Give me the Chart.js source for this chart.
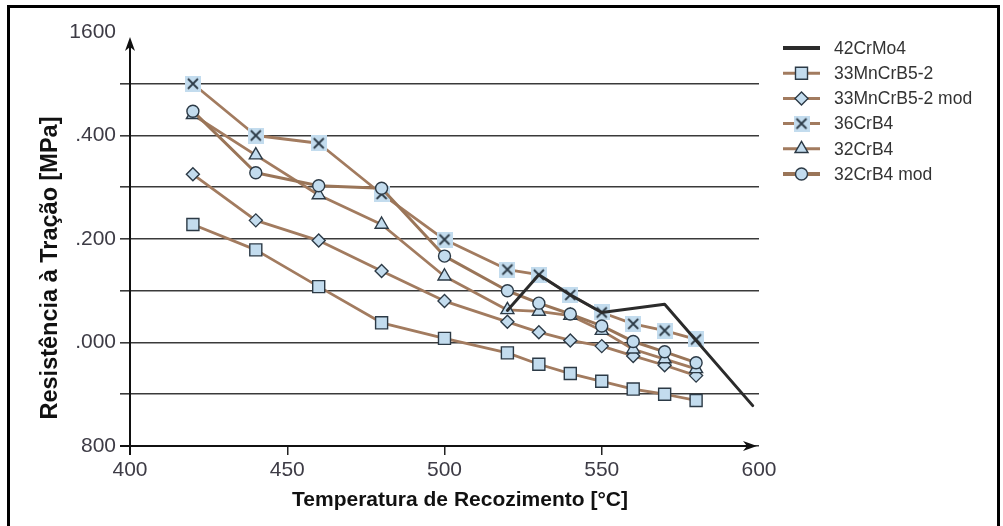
<!DOCTYPE html>
<html><head><meta charset="utf-8">
<script src="https://cdn.jsdelivr.net/npm/chart.js@4.4.1/dist/chart.umd.min.js"></script>
<style>html,body{margin:0;padding:0;background:#fff;}#wrap{width:1003px;height:526px;}</style>
</head><body><div id="wrap"><canvas id="c" width="1003" height="526"></canvas></div>
<script>
// ---- data ----
const temps = [420,440,460,480,500,520,530,540,550,560,570,580];
const temps42CrMo4 = [520,530,540,550,570,598];
const v42CrMo4 = [1062,1131,1092,1058,1074,878];
const v33MnCrB5_2 = [1228,1179,1108,1038,1008,980,958,940,925,910,900,888];
const v33MnCrB5_2mod = [1325,1236,1197,1138,1080,1040,1020,1004,993,974,956,936];
const v36CrB4 = [1500,1400,1385,1287,1199,1141,1131,1092,1058,1036,1023,1006];
const v32CrB4 = [1440,1362,1285,1228,1128,1063,1060,1052,1023,987,968,949];
const v32CrB4mod = [1447,1328,1303,1298,1167,1100,1076,1055,1032,1002,982,961];
const seriesLabels = ['42CrMo4','33MnCrB5-2','33MnCrB5-2 mod','36CrB4','32CrB4','32CrB4 mod'];
const xTickValues = [400,450,500,550,600];
const yTickLabels = {800:'800',1000:'.000',1200:'.200',1400:'.400',1600:'1600'};
const xTitle = 'Temperatura de Recozimento [°C]';
const yTitle = 'Resistência à Tração [MPa]';

const FONT = "'Liberation Sans', Arial, sans-serif";
const BROWN = '#a27b5f';
const FILL = '#c3dcee';
const EDGE = '#2c3a46';

function pts(xs, ys){ return xs.map((x,i)=>({x:x, y:ys[i]})); }

// X marker with light blue square background
const xMark = document.createElement('canvas');
xMark.width = 16; xMark.height = 16;
(function(){
  const g = xMark.getContext('2d');
  g.fillStyle = FILL; g.fillRect(0,0,16,16);
  g.strokeStyle = EDGE; g.lineWidth = 1.8;
  g.beginPath(); g.moveTo(3,3); g.lineTo(13,13); g.moveTo(13,3); g.lineTo(3,13); g.stroke();
})();

const styles = [
  {style:false, r:0, color:'#2b2b2b', w:3},
  {style:'rect', r:8.5, color:BROWN, w:2.8},
  {style:'rectRot', r:6.5, color:BROWN, w:2.8},
  {style:xMark, r:8, color:BROWN, w:2.8},
  {style:'triangle', r:7.5, color:BROWN, w:2.8},
  {style:'circle', r:6, color:'#9a7558', w:3},
];
const dataArrays = [pts(temps42CrMo4,v42CrMo4), pts(temps,v33MnCrB5_2), pts(temps,v33MnCrB5_2mod), pts(temps,v36CrB4), pts(temps,v32CrB4), pts(temps,v32CrB4mod)];

const datasets = dataArrays.map((d,i)=>({
  label: seriesLabels[i],
  data: d,
  borderColor: styles[i].color,
  borderWidth: styles[i].w,
  backgroundColor: FILL,
  pointStyle: styles[i].style,
  pointRadius: styles[i].r,
  pointHoverRadius: styles[i].r,
  pointBorderColor: EDGE,
  pointBackgroundColor: FILL,
  pointBorderWidth: 1.4,
  tension: 0,
  fill: false,
  order: i === 0 ? 2 : (6 - i) + 2
}));

function drawMarker(ctx, st, x, y){
  if (!st.style) return;
  ctx.save();
  ctx.fillStyle = FILL; ctx.strokeStyle = EDGE; ctx.lineWidth = 1.4;
  const r = st.r;
  if (st.style instanceof HTMLCanvasElement){
    ctx.drawImage(st.style, x-8, y-8);
  } else {
    ctx.beginPath();
    if (st.style==='rect'){ const s=Math.SQRT1_2*r; ctx.rect(x-s,y-s,2*s,2*s); }
    else if (st.style==='rectRot'){ ctx.moveTo(x-r,y); ctx.lineTo(x,y-r); ctx.lineTo(x+r,y); ctx.lineTo(x,y+r); ctx.closePath(); }
    else if (st.style==='triangle'){ for(let k=0;k<3;k++){ const a=k*2*Math.PI/3; const px=x+Math.sin(a)*r, py=y-Math.cos(a)*r; k?ctx.lineTo(px,py):ctx.moveTo(px,py);} ctx.closePath(); }
    else if (st.style==='circle'){ ctx.arc(x,y,r,0,Math.PI*2); }
    ctx.fill(); ctx.stroke();
  }
  ctx.restore();
}

const decor = {
  id:'decor',
  afterDraw(chart){
    const ctx = chart.ctx;
    const xs = chart.scales.x, ys = chart.scales.y;
    const x0 = xs.getPixelForValue(400), y0 = ys.getPixelForValue(800);
    const yTop = chart.chartArea.top, xEnd = xs.getPixelForValue(600);
    ctx.save();
    // axes with arrows
    ctx.strokeStyle = '#111'; ctx.fillStyle = '#111'; ctx.lineWidth = 2;
    ctx.beginPath(); ctx.moveTo(x0, y0+9); ctx.lineTo(x0, yTop+10); ctx.stroke();
    ctx.beginPath(); ctx.moveTo(x0, yTop+5); ctx.lineTo(x0-5, yTop+19); ctx.lineTo(x0, yTop+15); ctx.lineTo(x0+5, yTop+19); ctx.closePath(); ctx.fill();
    ctx.beginPath(); ctx.moveTo(x0-10, y0); ctx.lineTo(xEnd-8, y0); ctx.stroke();
    ctx.beginPath(); ctx.moveTo(xEnd-2, y0); ctx.lineTo(xEnd-16, y0-5); ctx.lineTo(xEnd-12, y0); ctx.lineTo(xEnd-16, y0+5); ctx.closePath(); ctx.fill();
    // axis titles
    ctx.fillStyle = '#111';
    ctx.font = 'bold 21px ' + FONT; ctx.textAlign='center'; ctx.textBaseline='middle';
    ctx.fillText(xTitle, 460, 500);
    ctx.save(); ctx.translate(51, 268); ctx.rotate(-Math.PI/2);
    ctx.font = 'bold 23.5px ' + FONT; ctx.fillText(yTitle, 0, 0); ctx.restore();
    // legend
    chart.data.datasets.forEach((ds,i)=>{
      const ly = 48 + i*25.2;
      ctx.strokeStyle = ds.borderColor; ctx.lineWidth = (i===0||i===5)?4:3;
      ctx.beginPath(); ctx.moveTo(783, ly); ctx.lineTo(820, ly); ctx.stroke();
      drawMarker(ctx, styles[i], 801.5, ly);
      ctx.fillStyle = '#333'; ctx.font = '17.5px ' + FONT; ctx.textAlign='left'; ctx.textBaseline='middle';
      ctx.fillText(ds.label, 834, ly+1);
    });
    // frame
    ctx.strokeStyle = '#000'; ctx.lineWidth = 3;
    ctx.beginPath(); ctx.moveTo(8.5, 540); ctx.lineTo(8.5, 6.5); ctx.lineTo(998.5, 6.5); ctx.lineTo(998.5, 540); ctx.stroke();
    ctx.restore();
  }
};

new Chart(document.getElementById('c'), {
  type:'line',
  data:{datasets},
  plugins:[decor],
  options:{
    responsive:false, animation:false, devicePixelRatio:1,
    layout:{padding:{top:32,right:244,left:0,bottom:0}},
    plugins:{legend:{display:false}, tooltip:{enabled:false}},
    elements:{line:{borderCapStyle:'round', borderJoinStyle:'round'}},
    scales:{
      x:{type:'linear', min:400, max:600,
        afterBuildTicks(s){ s.ticks = xTickValues.map(v=>({value:v})); },
        afterFit(s){ s.height = 80; },
        ticks:{autoSkip:false, color:'#3d3b45', font:{family:FONT, size:21}, padding:3, maxRotation:0},
        grid:{drawOnChartArea:false, drawTicks:true, tickLength:9, lineWidth:1.5,
          color:(c)=> (c.tick && (c.tick.value===600||c.tick.value===400)) ? 'rgba(0,0,0,0)' : '#222'},
        border:{display:false}
      },
      y:{type:'linear', min:800, max:1600,
        ticks:{stepSize:100, autoSkip:false, color:'#3d3b45', font:{family:FONT, size:21}, padding:4,
          callback:(v)=> (yTickLabels[v]!==undefined ? yTickLabels[v] : '')},
        afterFit(s){ s.width = 130; },
        grid:{drawTicks:true, tickLength:10, lineWidth:1.6,
          color:(c)=> (c.tick && c.tick.value===1600) ? 'rgba(0,0,0,0)' : '#3a3a3a'},
        border:{display:false}
      }
    }
  }
});
</script></body></html>
